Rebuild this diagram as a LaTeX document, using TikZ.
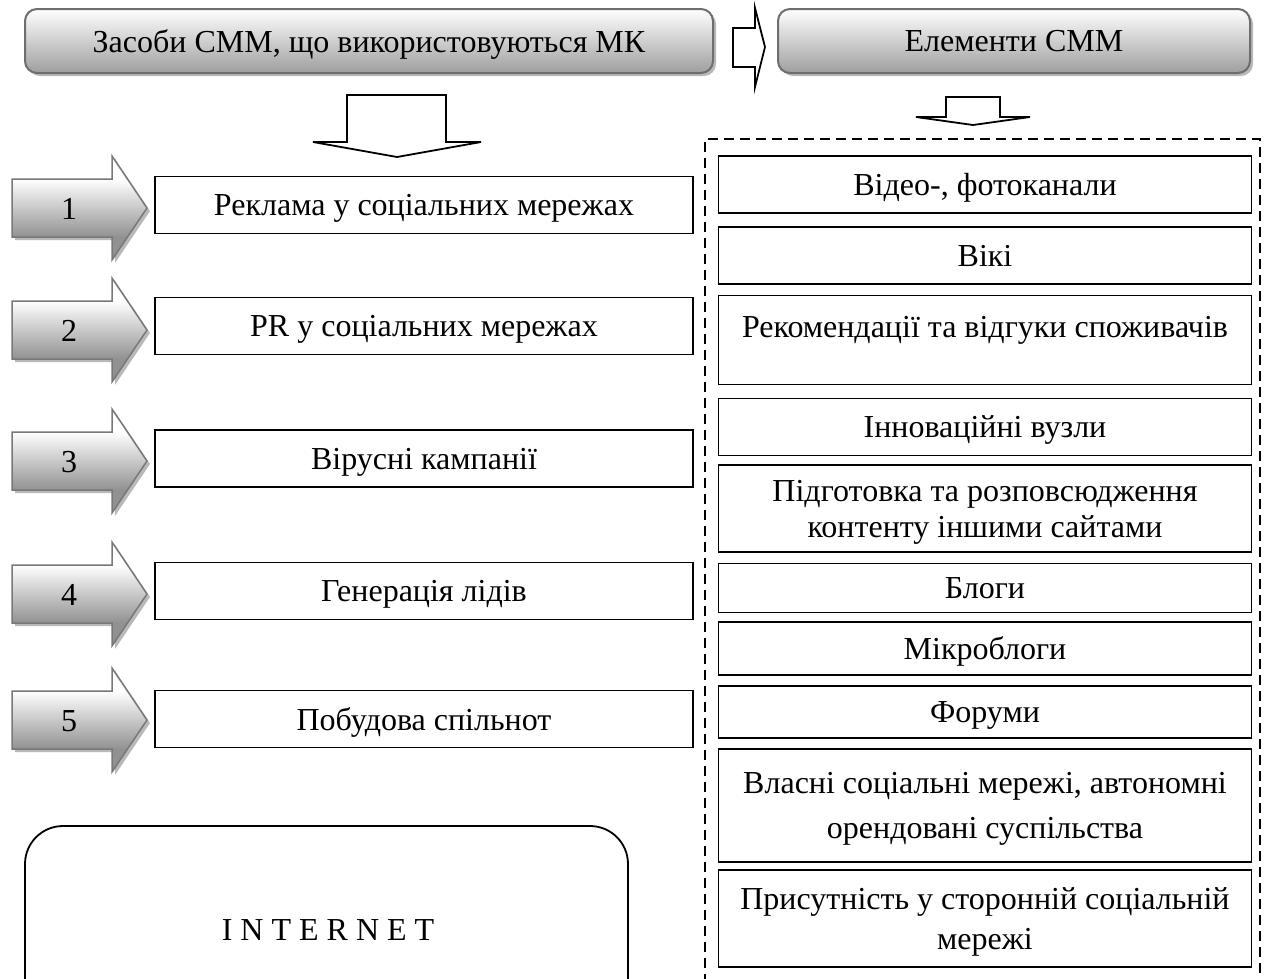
\documentclass[tikz,border=0pt]{standalone}
\usepackage{fontspec}
\setmainfont{Liberation Serif}
\usetikzlibrary{shadows}

\definecolor{hdrline}{RGB}{110,110,110}
\definecolor{hdrbottom}{RGB}{158,158,158}
\definecolor{shadowgrey}{RGB}{185,185,185}
\definecolor{arrline}{RGB}{120,120,120}
\definecolor{arrbottom}{RGB}{145,145,145}

% vertical shading: light over the top of the arrow shaft, grey at its bottom
\pgfdeclareverticalshading{shaftshade}{100bp}{color(0bp)=(arrbottom); color(36bp)=(arrbottom); color(64bp)=(white); color(100bp)=(white)}

\begin{document}
\begin{tikzpicture}[x=1pt,y=-1pt,
  txt/.style={font=\fontsize{32}{38}\selectfont, align=center, inner sep=0pt, text depth=0pt},
  header/.style={txt, draw=hdrline, line width=2pt, rounded corners=12pt,
    top color=white, bottom color=hdrbottom,
    drop shadow={shadow xshift=3pt, shadow yshift=-3pt, fill=shadowgrey, opacity=1},
    minimum height=64pt},
  lbox/.style={txt, draw=black, line width=1.6pt, minimum width=538pt, minimum height=57pt},
  rbox/.style={txt, draw=black, line width=1.8pt, minimum width=533pt},
  numarrow/.style={draw=arrline, line width=1.5pt, shading=shaftshade,
    drop shadow={shadow xshift=3pt, shadow yshift=-3pt, fill=shadowgrey, opacity=1}},
  blockarrow/.style={draw=black, line width=1.8pt, fill=white, line join=miter},
]
\useasboundingbox (0,0) rectangle (1267,978);
\clip (0,0) rectangle (1267,978);

% headers
\node[header, minimum width=688pt] (h1) at (369,41) {Засоби СММ, що використовуються МК};
\node[header, minimum width=472pt] (h2) at (1014,41) {Елементи СММ};

% block arrow between the headers
\draw[blockarrow] (733,28) -- (755,28) -- (755,8) -- (765,47) -- (755,87) -- (755,67) -- (733,67) -- cycle;

% down arrows under the headers
\draw[blockarrow] (347,95) -- (446,95) -- (446,142) -- (481,142) -- (397,157) -- (313,142) -- (347,142) -- cycle;
\draw[blockarrow] (946,97) -- (1000,97) -- (1000,117) -- (1030,117) -- (973,125) -- (916,117) -- (946,117) -- cycle;

% numbered arrows and left boxes
\foreach \n/\cy in {1/208, 2/330, 3/461, 4/594, 5/720}{
  \path[numarrow] (12,\cy-29) -- (112,\cy-29) -- (112,\cy-52) -- (147,\cy) -- (112,\cy+52)
     -- (112,\cy+29) -- (12,\cy+29) -- cycle;
  \node[txt] (n\n) at (69,\cy+1) {\n};
}
\node[lbox] (l1) at (424,205) {Реклама у соціальних мережах};
\node[lbox] (l2) at (424,326) {PR у соціальних мережах};
\node[lbox] (l3) at (424,458.5) {Вірусні кампанії};
\node[lbox] (l4) at (424,591) {Генерація лідів};
\node[lbox] (l5) at (424,719) {Побудова спільнот};

% internet block
\draw[line width=1.8pt, rounded corners=38pt] (25,1010) -- (25,826) -- (628,826) -- (628,1010);
\node[txt] (inet) at (328,930) {I N T E R N E T};

% dashed frame of the elements list
\draw[line width=1.5pt, dash pattern=on 10pt off 6pt] (705,1000) -- (705,139) -- (1260,139) -- (1260,1000);

% elements
\node[rbox, minimum height=57pt] (r1) at (985,184.5) {Відео-, фотоканали};
\node[rbox, minimum height=57pt] (r2) at (985,255.5) {Вікі};
\node[rbox, minimum height=89pt] (r3) at (985,340) {};
\node[txt] (r3t) at (985,327) {Рекомендації та відгуки споживачів};
\node[rbox, minimum height=57pt] (r4) at (985,427) {Інноваційні вузли};
\node[rbox, minimum height=87pt, font=\fontsize{32}{36}\selectfont] (r5) at (985,508.5) {Підготовка та розповсюдження\\контенту іншими сайтами};
\node[rbox, minimum height=49pt] (r6) at (985,588) {Блоги};
\node[rbox, minimum height=53pt] (r7) at (985,648.5) {Мікроблоги};
\node[rbox, minimum height=52pt] (r8) at (985,712) {Форуми};
\node[rbox, minimum height=113pt, font=\fontsize{32}{45}\selectfont] (r9) at (985,805.5) {Власні соціальні мережі, автономні\\орендовані суспільства};
\node[rbox, minimum height=97pt, font=\fontsize{32}{40}\selectfont] (r10) at (985,918.5) {Присутність у сторонній соціальній\\мережі};
\end{tikzpicture}
\end{document}
